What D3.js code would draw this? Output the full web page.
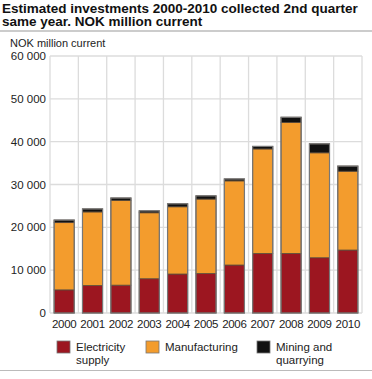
<!DOCTYPE html>
<html>
<head>
<meta charset="utf-8">
<script src="https://cdn.jsdelivr.net/npm/d3@7"></script>
<style>
  body { margin: 0; background: #fff; }
  svg { font-family: "Liberation Sans", Arial, sans-serif; }
</style>
</head>
<body>
<svg id="chart" width="372" height="379"></svg>
<script>
// data (NOK million)
var years = ["2000", "2001", "2002", "2003", "2004", "2005", "2006", "2007", "2008", "2009", "2010"];
var electricity = [5400, 6400, 6500, 8000, 9100, 9200, 11200, 13900, 13900, 12900, 14700];
var manufacturing = [15700, 17200, 19800, 15400, 15700, 17400, 19650, 24400, 30600, 24500, 18400];
var mining = [600, 700, 550, 450, 700, 750, 450, 600, 1200, 2100, 1200];
var yTicks = [0, 10000, 20000, 30000, 40000, 50000, 60000];
var seriesNames = ["Electricity supply", "Manufacturing", "Mining and quarrying"];
var colors = ["#9c1620", "#f39c2d", "#111111"];

var svg = d3.select("#chart");

var margin = {top: 56, right: 10, bottom: 66, left: 50},
    width = 372,
    height = 379;

// title
var title = svg.append("text")
    .attr("x", 2)
    .attr("y", 12.5)
    .attr("font-size", "13.5px")
    .attr("font-weight", "bold")
    .attr("fill", "#111");
title.append("tspan").attr("x", 2).attr("dy", 0).text("Estimated investments 2000-2010 collected 2nd quarter");
title.append("tspan").attr("x", 2).attr("dy", 13.5).text("same year. NOK million current");

svg.append("line")
    .attr("x1", 0).attr("x2", width)
    .attr("y1", 31).attr("y2", 31)
    .attr("stroke", "#999").attr("stroke-width", 1);

svg.append("text")
    .attr("x", 10)
    .attr("y", 47)
    .attr("font-size", "11px")
    .attr("fill", "#222")
    .text("NOK million current");

var x = d3.scaleBand()
    .domain(years)
    .range([margin.left, width - margin.right])
    .paddingInner(0.29)
    .paddingOuter(0.145);

var y = d3.scaleLinear()
    .domain([0, 60000])
    .range([height - margin.bottom, margin.top]);

// grid
var grid = svg.append("g");
grid.selectAll(".hgrid")
    .data(yTicks)
    .enter()
    .append("line")
    .attr("x1", margin.left).attr("x2", width - margin.right)
    .attr("y1", function(d) { return y(d); })
    .attr("y2", function(d) { return y(d); })
    .attr("stroke", "#dcdcdc").attr("stroke-width", 1.3);

var step = x.step();
var vlines = d3.range(years.length + 1).map(function(i) { return margin.left + i * step; });
grid.selectAll(".vgrid")
    .data(vlines)
    .enter()
    .append("line")
    .attr("x1", function(d) { return d; })
    .attr("x2", function(d) { return d; })
    .attr("y1", y(60000)).attr("y2", y(0))
    .attr("stroke", "#dcdcdc").attr("stroke-width", 1.3);

// stacked bars
var rows = years.map(function(yr, i) {
    return {year: yr, e: electricity[i], m: manufacturing[i], q: mining[i]};
});
var stack = d3.stack().keys(["e", "m", "q"]);
var layers = stack(rows);

svg.append("g")
    .selectAll("g")
    .data(layers)
    .enter()
    .append("g")
    .attr("fill", function(d, i) { return colors[i]; })
    .selectAll("rect")
    .data(function(d) { return d; })
    .enter()
    .append("rect")
    .attr("x", function(d) { return x(d.data.year); })
    .attr("width", x.bandwidth())
    .attr("y", function(d) { return y(d[1]); })
    .attr("height", function(d) { return y(d[0]) - y(d[1]); })
    .attr("stroke", "#5a4a3a")
    .attr("stroke-width", 0.8);

// outline of whole bar
svg.append("g")
    .selectAll("rect")
    .data(rows)
    .enter()
    .append("rect")
    .attr("x", function(d) { return x(d.year); })
    .attr("width", x.bandwidth())
    .attr("y", function(d) { return y(d.e + d.m + d.q); })
    .attr("height", function(d) { return y(0) - y(d.e + d.m + d.q); })
    .attr("fill", "none")
    .attr("stroke", "#777")
    .attr("stroke-width", 1.2);

// y axis labels
svg.append("g")
    .selectAll("text")
    .data(yTicks)
    .enter()
    .append("text")
    .attr("x", margin.left - 4)
    .attr("y", function(d) { return y(d) + 4; })
    .attr("text-anchor", "end")
    .attr("font-size", "11.5px")
    .attr("fill", "#222")
    .text(function(d) { return d3.format(",")(d).replace(/,/g, " "); });

// x axis labels
svg.append("g")
    .selectAll("text")
    .data(years)
    .enter()
    .append("text")
    .attr("x", function(d) { return x(d) + x.bandwidth() / 2; })
    .attr("y", y(0) + 15)
    .attr("text-anchor", "middle")
    .attr("font-size", "11.5px")
    .attr("letter-spacing", "-0.3px")
    .attr("fill", "#222")
    .text(function(d) { return d; });

// legend
var legendX = [57, 146, 257];
var legendLines = [["Electricity", "supply"], ["Manufacturing"], ["Mining and", "quarrying"]];
var legend = svg.append("g")
    .selectAll("g")
    .data(seriesNames)
    .enter()
    .append("g")
    .attr("transform", function(d, i) { return "translate(" + legendX[i] + ",341)"; });

legend.append("rect")
    .attr("width", 13).attr("height", 12)
    .attr("fill", function(d, i) { return colors[i]; })
    .attr("stroke", "#777").attr("stroke-width", 0.8);

legend.each(function(d, i) {
    var t = d3.select(this).append("text")
        .attr("x", 19)
        .attr("y", 10)
        .attr("font-size", "11.5px")
        .attr("fill", "#222");
    legendLines[i].forEach(function(line, j) {
        t.append("tspan").attr("x", 19).attr("dy", j === 0 ? 0 : 13).text(line);
    });
});

svg.append("line")
    .attr("x1", 0).attr("x2", width)
    .attr("y1", 370.5).attr("y2", 370.5)
    .attr("stroke", "#bbb").attr("stroke-width", 1);
</script>
</body>
</html>
